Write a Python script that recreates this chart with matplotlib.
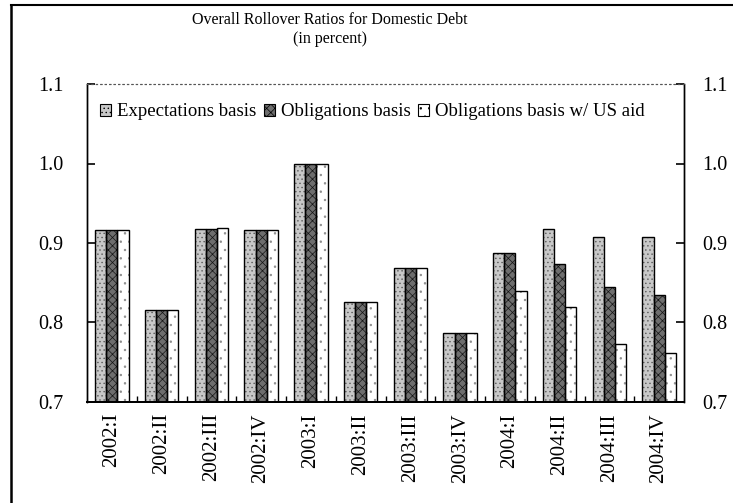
#!/usr/bin/env python3
"""
Overall Rollover Ratios for Domestic Debt - grouped bar chart (Times-like style).
"""

import numpy as np
import matplotlib
matplotlib.use("Agg")
import matplotlib.pyplot as plt
from matplotlib.lines import Line2D
from matplotlib.patches import Patch

# ── Dados ────────────────────────────────────────────────────────────────────
QUARTERS = [ "2002:I", "2002:II", "2002:III", "2002:IV",
             "2003:I", "2003:II", "2003:III", "2003:IV",
             "2004:I", "2004:II", "2004:III", "2004:IV" ]
SERIES = [ "Expectations basis", "Obligations basis", "Obligations basis w/ US aid" ]
EXPECTATIONS = [ 0.916, 0.816, 0.918, 0.916, 1.000, 0.826, 0.869, 0.787, 0.888, 0.918, 0.907, 0.907 ]
OBLIGATIONS = [ 0.916, 0.816, 0.918, 0.916, 1.000, 0.826, 0.869, 0.787, 0.888, 0.874, 0.845, 0.835 ]
WITH_US_AID = [ 0.916, 0.816, 0.919, 0.916, 1.000, 0.826, 0.869, 0.787, 0.840, 0.819, 0.773, 0.762 ]
Y_TICKS = [ 0.7, 0.8, 0.9, 1.0, 1.1 ]

# ── Estilo ───────────────────────────────────────────────────────────────────
FACES = [ "#c8c8c8", "#6e6e6e", "#ffffff" ]
HATCHES = [ "....", "xxxx", ".." ]
HATCH_EDGE = [ "#5a5a5a", "#141414", "#8a8a8a" ]

plt.rcParams[ 'font.family' ] = [ 'Liberation Serif', 'DejaVu Serif' ]
plt.rcParams[ 'hatch.linewidth' ] = 0.5

fig = plt.figure( figsize = (7.33, 5.03), dpi = 100 )
ax = fig.add_axes( [ 87 / 733, 1 - 402 / 503, 597 / 733, 318 / 503 ] )

x = np.arange( len( QUARTERS ) )
w = 0.225
for i, vals in enumerate( [ EXPECTATIONS, OBLIGATIONS, WITH_US_AID ] ):
    pos = x + (i - 1) * w
    ax.bar( pos, vals, w, color = FACES[ i ], hatch = HATCHES[ i ],
            edgecolor = HATCH_EDGE[ i ], linewidth = 0, zorder = 2 )
    ax.bar( pos, vals, w, fill = False, edgecolor = "black", linewidth = 1.0, zorder = 3 )

ax.set_xlim( -0.5, len( QUARTERS ) - 0.5 )
ax.set_ylim( 0.7, 1.1 )
ax.set_yticks( Y_TICKS )
ax.set_yticklabels( [ f"{v:.1f}" for v in Y_TICKS ] )
ax.set_xticks( x )
ax.set_xticklabels( QUARTERS, rotation = 90, fontsize = 15 )
ax.set_xticks( np.arange( 0.5, len( QUARTERS ) - 0.5 ), minor = True )

ax.tick_params( axis = 'y', which = 'major', direction = 'in', length = 6, width = 1.2,
                left = True, right = False, labelsize = 14.5, pad = 17 )
ax.tick_params( axis = 'x', which = 'major', length = 0, pad = 8 )
ax.tick_params( axis = 'x', which = 'minor', direction = 'in', length = 4, width = 1 )

# Eixo direito com os mesmos valores
ax_r = ax.twinx()
ax_r.set_ylim( ax.get_ylim() )
ax_r.set_yticks( Y_TICKS )
ax_r.set_yticklabels( [ f"{v:.1f}" for v in Y_TICKS ] )
ax_r.tick_params( axis = 'y', direction = 'in', length = 6, width = 1.2,
                  labelsize = 14.5, pad = 13 )

for a in [ ax, ax_r ]:
    a.spines[ 'left' ].set_linewidth( 1.0 )
    a.spines[ 'right' ].set_linewidth( 1.0 )
    a.spines[ 'bottom' ].set_linewidth( 1.4 )
    a.spines[ 'top' ].set_linestyle( ( 0, (1, 3) ) )
    a.spines[ 'top' ].set_color( "#555555" )

handles = [ Patch( facecolor = FACES[ i ], hatch = HATCHES[ i ], edgecolor = "black",
                   linewidth = 0.8, label = SERIES[ i ] ) for i in range( 3 ) ]
ax_r.legend( handles = handles, loc = 'upper left', ncol = 3, frameon = False,
             fontsize = 13.5, handlelength = 0.6, handleheight = 0.6,
             handletextpad = 0.3, columnspacing = 0.4,
             bbox_to_anchor = (0.0, 0.98), borderaxespad = 0.3 )

fig.text( 330 / 733, 1 - 20 / 503, "Overall Rollover Ratios for Domestic Debt",
          ha = 'center', va = 'center', fontsize = 11.5 )
fig.text( 330 / 733, 1 - 39 / 503, "(in percent)", ha = 'center', va = 'center', fontsize = 11.5 )

# Moldura da figura (esquerda e topo)
fig.add_artist( Line2D( [ 11 / 733, 11 / 733 ], [ 0, 1 - 5 / 503 ], color = "black",
                        linewidth = 1.8, transform = fig.transFigure ) )
fig.add_artist( Line2D( [ 11 / 733, 1 ], [ 1 - 5 / 503, 1 - 5 / 503 ], color = "black",
                        linewidth = 1.5, transform = fig.transFigure ) )

fig.savefig( "out.png", dpi = 100, facecolor = "white" )
